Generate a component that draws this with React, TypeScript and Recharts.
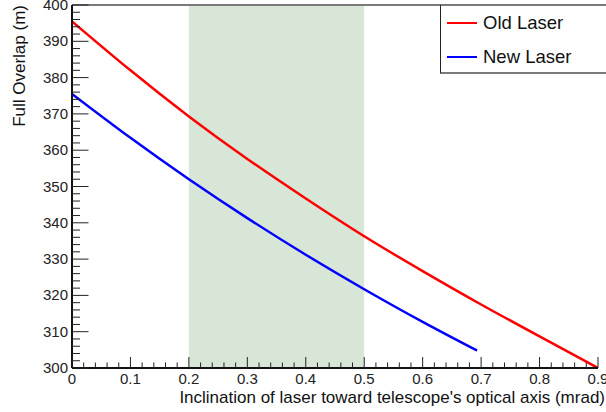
import React from 'react';
import { LineChart, Line, XAxis, YAxis, ReferenceArea, ReferenceLine } from 'recharts';

// Old laser curve
const oldX = [0, 0.1, 0.2, 0.3, 0.4, 0.5, 0.6, 0.7, 0.8, 0.9];
const oldY = [395.5, 382.0, 369.3, 357.6, 346.7, 336.3, 326.7, 317.5, 308.7, 300.0];

// New laser curve (stops before 0.7)
const newX = [0, 0.1, 0.2, 0.3, 0.4, 0.5, 0.6, 0.693];
const newY = [375.5, 363.4, 352.0, 341.3, 331.2, 321.7, 312.7, 304.8];

// Axis tick labels (majors)
const xMajor = [0, 0.1, 0.2, 0.3, 0.4, 0.5, 0.6, 0.7, 0.8, 0.9];
const yMajor = [300, 310, 320, 330, 340, 350, 360, 370, 380, 390, 400];

// Highlighted range
const bandFrom = 0.2;
const bandTo = 0.5;

const oldData = oldX.map((x, i) => ({ x, y: oldY[i] }));
const newData = newX.map((x, i) => ({ x, y: newY[i] }));

// minor ticks: 5 per x division, 5 per y division
const xTicks: number[] = [];
for (let i = 0; i <= 45; i++) xTicks.push(Number((i * 0.02).toFixed(2)));
const yTicks: number[] = [];
for (let v = 300; v <= 400; v += 2) yTicks.push(v);

const FONT = '"Liberation Sans", Arial, Helvetica, sans-serif';

function XTick(props: any) {
  const { x, y, payload } = props;
  const v = payload.value;
  const major = xMajor.some(m => Math.abs(m - v) < 1e-6);
  return (
    <g>
      <line x1={x} y1={y} x2={x} y2={y - (major ? 11 : 5.5)} stroke="#222" strokeWidth={1} />
      {major && (
        <text x={x} y={y + 16} textAnchor="middle" fontSize={15} fontFamily={FONT} fill="#222">
          {String(v)}
        </text>
      )}
    </g>
  );
}

function YTick(props: any) {
  const { x, y, payload } = props;
  const v = payload.value;
  const major = yMajor.includes(v);
  return (
    <g>
      <line x1={x} y1={y} x2={x + (major ? 16.5 : 8)} y2={y} stroke="#222" strokeWidth={1} />
      {major && (
        <text x={x - 4} y={y + 5} textAnchor="end" fontSize={15} fontFamily={FONT} fill="#222">
          {String(v)}
        </text>
      )}
    </g>
  );
}

export default function App() {
  return (
    <div style={{ position: 'absolute', left: 0, top: 0, width: 606, height: 412, background: '#fff', fontFamily: FONT }}>
      <LineChart width={606} height={412} margin={{ top: 5, right: 8, bottom: 0, left: 0 }}>
        <ReferenceArea x1={bandFrom} x2={bandTo} fill="#d8e6d8" fillOpacity={1} stroke="none" />
        <ReferenceLine y={400} stroke="#7a7a7a" strokeWidth={2} />
        <XAxis
          type="number"
          dataKey="x"
          domain={[0, 0.9]}
          ticks={xTicks}
          interval={0}
          height={44}
          tickSize={0}
          tickMargin={0}
          tickLine={false}
          tick={<XTick />}
          axisLine={{ stroke: '#111', strokeWidth: 2 }}
          allowDataOverflow
          label={(p: any) => {
            const vb = p.viewBox;
            return (
              <text x={vb.x + vb.width + 7} y={vb.y + 35} textAnchor="end" fontSize={17} fontFamily={FONT} fill="#111">
                Inclination of laser toward telescope's optical axis (mrad)
              </text>
            );
          }}
        />
        <YAxis
          type="number"
          dataKey="y"
          domain={[300, 400]}
          ticks={yTicks}
          interval={0}
          width={72}
          tickSize={0}
          tickMargin={0}
          tickLine={false}
          tick={<YTick />}
          axisLine={{ stroke: '#111', strokeWidth: 2 }}
          allowDataOverflow
          label={(p: any) => {
            const vb = p.viewBox;
            return (
              <text
                x={25}
                y={vb.y}
                transform={`rotate(-90, 25, ${vb.y})`}
                textAnchor="end"
                fontSize={17}
                fontFamily={FONT}
                fill="#111"
              >
                Full Overlap (m)
              </text>
            );
          }}
        />
        <Line data={oldData} dataKey="y" type="natural" stroke="#ff0000" strokeWidth={2.5} dot={false} isAnimationActive={false} />
        <Line data={newData} dataKey="y" type="natural" stroke="#0000ff" strokeWidth={2.5} dot={false} isAnimationActive={false} />
      </LineChart>

      {/* legend box, top-right, ROOT style */}
      <div
        style={{
          position: 'absolute',
          left: 440,
          top: 4,
          width: 166,
          height: 70,
          borderTop: '2px solid #7a7a7a',
          borderBottom: '2px solid #7a7a7a',
          borderLeft: '1px solid #222',
          background: '#fff',
          boxSizing: 'border-box',
        }}
      >
        {[
          { name: 'Old Laser', color: '#ff0000', top: 6 },
          { name: 'New Laser', color: '#0000ff', top: 40 },
        ].map(item => (
          <div key={item.name} style={{ position: 'absolute', left: 6, top: item.top, height: 22, display: 'flex', alignItems: 'center' }}>
            <div style={{ width: 30, height: 2.5, background: item.color }} />
            <span style={{ marginLeft: 6, fontSize: 18.5, color: '#111', lineHeight: '22px' }}>{item.name}</span>
          </div>
        ))}
      </div>
    </div>
  );
}
